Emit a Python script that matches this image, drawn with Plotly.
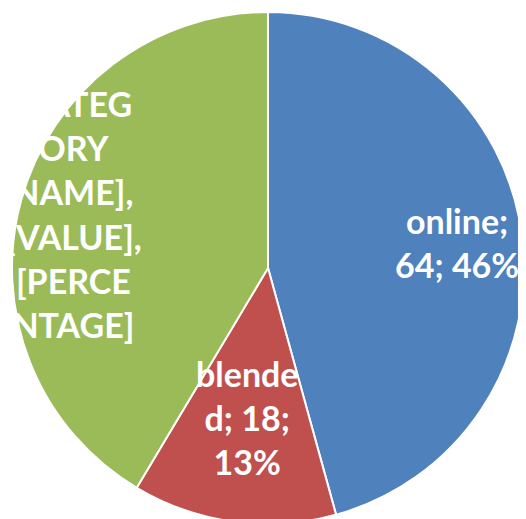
import math
import plotly.graph_objects as go

categories = ["online", "blended", "[CATEGORY NAME]"]
values = [64, 18, 58]
label_text = [
    "online;<br>64; 46%",
    "blende<br>d; 18;<br>13%",
    "[CATEG<br>ORY<br>NAME],<br>[VALUE],<br>[PERCE<br>NTAGE]",
]
label_radius = [0.745, 0.59, 0.79]   # label distance from centre, as a fraction of the radius
colors = ["#4F81BD", "#C0504D", "#9BBB59"]

fig = go.Figure(
    go.Pie(
        labels=categories,
        values=values,
        textinfo="none",
        sort=False,
        direction="clockwise",
        rotation=0,
        marker=dict(colors=colors, line=dict(color="white", width=2)),
        showlegend=False,
        hoverinfo="label+value+percent",
    )
)

# data labels placed at each slice's mid-angle (computed from the values)
total = sum(values)
cum = 0
for v, txt, f in zip(values, label_text, label_radius):
    mid = (cum + v / 2) / total * 2 * math.pi
    cum += v
    fig.add_annotation(
        x=0.5 + 0.5 * f * math.sin(mid),
        y=0.5 + 0.5 * f * math.cos(mid),
        xref="paper", yref="paper",
        text=txt, showarrow=False,
        xanchor="center", yanchor="middle", align="center",
        font=dict(family="Lato", size=34, color="white", weight="bold"),
    )

fig.update_layout(
    width=526,
    height=519,
    margin=dict(l=4, r=10, t=4, b=3),
    paper_bgcolor="white",
    plot_bgcolor="white",
)
fig.write_html("out.html")
